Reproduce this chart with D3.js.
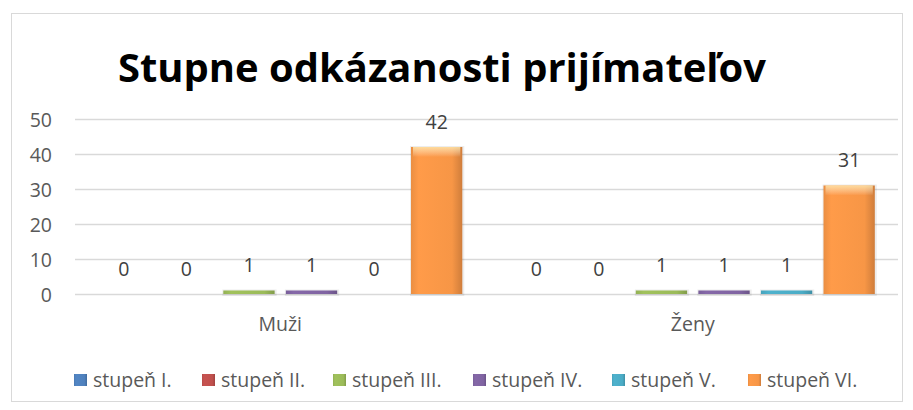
<!DOCTYPE html>
<html><head><meta charset="utf-8">
<script src="https://cdn.jsdelivr.net/npm/d3@7"></script>
<style>body{margin:0;background:#fff}svg{display:block}</style>
</head><body>
<svg id="c" width="913" height="410"></svg>
<script>
const title = "Stupne odkázanosti prijímateľov";
const categories = ["Muži", "Ženy"];
const seriesNames = ["stupeň I.", "stupeň II.", "stupeň III.", "stupeň IV.", "stupeň V.", "stupeň VI."];
const seriesColors = ["#4F81BD", "#C0504D", "#9BBB59", "#8064A2", "#4BACC6", "#F79646"];
const stupen1 = [0, 0];
const stupen2 = [0, 0];
const stupen3 = [1, 1];
const stupen4 = [1, 1];
const stupen5 = [0, 1];
const stupen6 = [42, 31];
const yTicks = [0, 10, 20, 30, 40, 50];

const seriesValues = [stupen1, stupen2, stupen3, stupen4, stupen5, stupen6];
const svg = d3.select("#c");
const font = "'Open Sans', sans-serif";
const fs = "19.5px";

svg.append("rect").attr("x", 11.5).attr("y", 13.5).attr("width", 891).attr("height", 388)
  .attr("fill", "#fff").attr("stroke", "#d9d9d9").attr("stroke-width", 1);

const defs = svg.append("defs");
seriesColors.forEach((c, i) => {
  const g = defs.append("linearGradient").attr("id", "g" + i).attr("x1", 0).attr("x2", 1).attr("y1", 0).attr("y2", 0);
  const col = d3.color(c);
  g.append("stop").attr("offset", "0%").attr("stop-color", col.darker(0.15));
  g.append("stop").attr("offset", "15%").attr("stop-color", col.brighter(0.1));
  g.append("stop").attr("offset", "80%").attr("stop-color", col);
  g.append("stop").attr("offset", "100%").attr("stop-color", col.darker(0.5));
  const v = defs.append("linearGradient").attr("id", "v" + i).attr("x1", 0).attr("x2", 0).attr("y1", 0).attr("y2", 1);
  v.append("stop").attr("offset", "0%").attr("stop-color", "#fff8c0").attr("stop-opacity", 0.7);
  v.append("stop").attr("offset", "100%").attr("stop-color", "#fff").attr("stop-opacity", 0);
});

const t = svg.append("text").attr("x", 442).attr("y", 82).attr("text-anchor", "middle")
  .style("font-family", font).style("font-weight", "bold").style("font-size", "36px").attr("fill", "#000").text(title);
const tw = t.node().getComputedTextLength();
if (tw > 0) t.style("font-size", (36 * 648 / tw).toFixed(2) + "px");

const x0 = d3.scaleBand().domain(categories).range([74, 899]).paddingInner(0.09).paddingOuter(0.045);
const x1 = d3.scaleBand().domain(d3.range(seriesNames.length)).range([0, x0.bandwidth()]).paddingInner(0.18).paddingOuter(0.09);
const y = d3.scaleLinear().domain([0, 50]).range([294, 119]);

const grid = svg.append("g");
grid.selectAll("line").data(yTicks).join("line")
  .attr("x1", 75).attr("x2", 898).attr("y1", d => y(d) + 0.5).attr("y2", d => y(d) + 0.5)
  .attr("stroke", "#d9d9d9").attr("stroke-width", 1.3);

const yAxis = svg.append("g").attr("transform", "translate(52,0)")
  .call(d3.axisLeft(y).tickValues(yTicks).tickSize(0).tickPadding(0));
yAxis.select(".domain").remove();
yAxis.selectAll("text").style("font-family", font).style("font-size", fs).attr("fill", "#595959").attr("dy", "0.36em");

const xAxis = svg.append("g").attr("transform", "translate(0,294)")
  .call(d3.axisBottom(x0).tickSize(0).tickPadding(0));
xAxis.select(".domain").remove();
xAxis.selectAll("text").style("font-family", font).style("font-size", fs).attr("fill", "#595959").attr("dy", null).attr("y", 37);

const data = [];
categories.forEach((c, ci) => seriesValues.forEach((s, si) => data.push({c, si, v: s[ci]})));

const bars = svg.append("g");
data.forEach(d => {
  const bx = x0(d.c) + x1(d.si), bw = x1.bandwidth();
  const h = y(0) - y(d.v);
  if (d.v > 0) {
    bars.append("rect").attr("x", bx - 1).attr("y", y(d.v) - 1).attr("width", bw + 3).attr("height", h + 3)
      .attr("fill", "#000").attr("opacity", 0.07);
    bars.append("rect").attr("x", bx).attr("y", y(d.v)).attr("width", bw).attr("height", h)
      .attr("fill", `url(#g${d.si})`);
    if (h > 10) bars.append("rect").attr("x", bx + 2).attr("y", y(d.v)).attr("width", bw - 4).attr("height", 10)
      .attr("fill", `url(#v${d.si})`);
  }
  svg.append("text").attr("x", bx + bw / 2).attr("y", y(d.v) - 18.5).attr("text-anchor", "middle")
    .style("font-family", font).style("font-size", fs).attr("fill", "#404040").text(d.v);
});

const legX = [74, 202, 333, 473, 612, 748];
const leg = svg.append("g");
seriesNames.forEach((n, i) => {
  const g = leg.append("g").attr("transform", `translate(${legX[i]},380)`);
  g.append("rect").attr("x", 0).attr("y", -6).attr("width", 13).attr("height", 12).attr("fill", `url(#g${i})`);
  g.append("text").attr("x", 19).attr("y", 7)
    .style("font-family", font).style("font-size", fs).attr("fill", "#595959").text(n);
});
</script>
</body></html>
